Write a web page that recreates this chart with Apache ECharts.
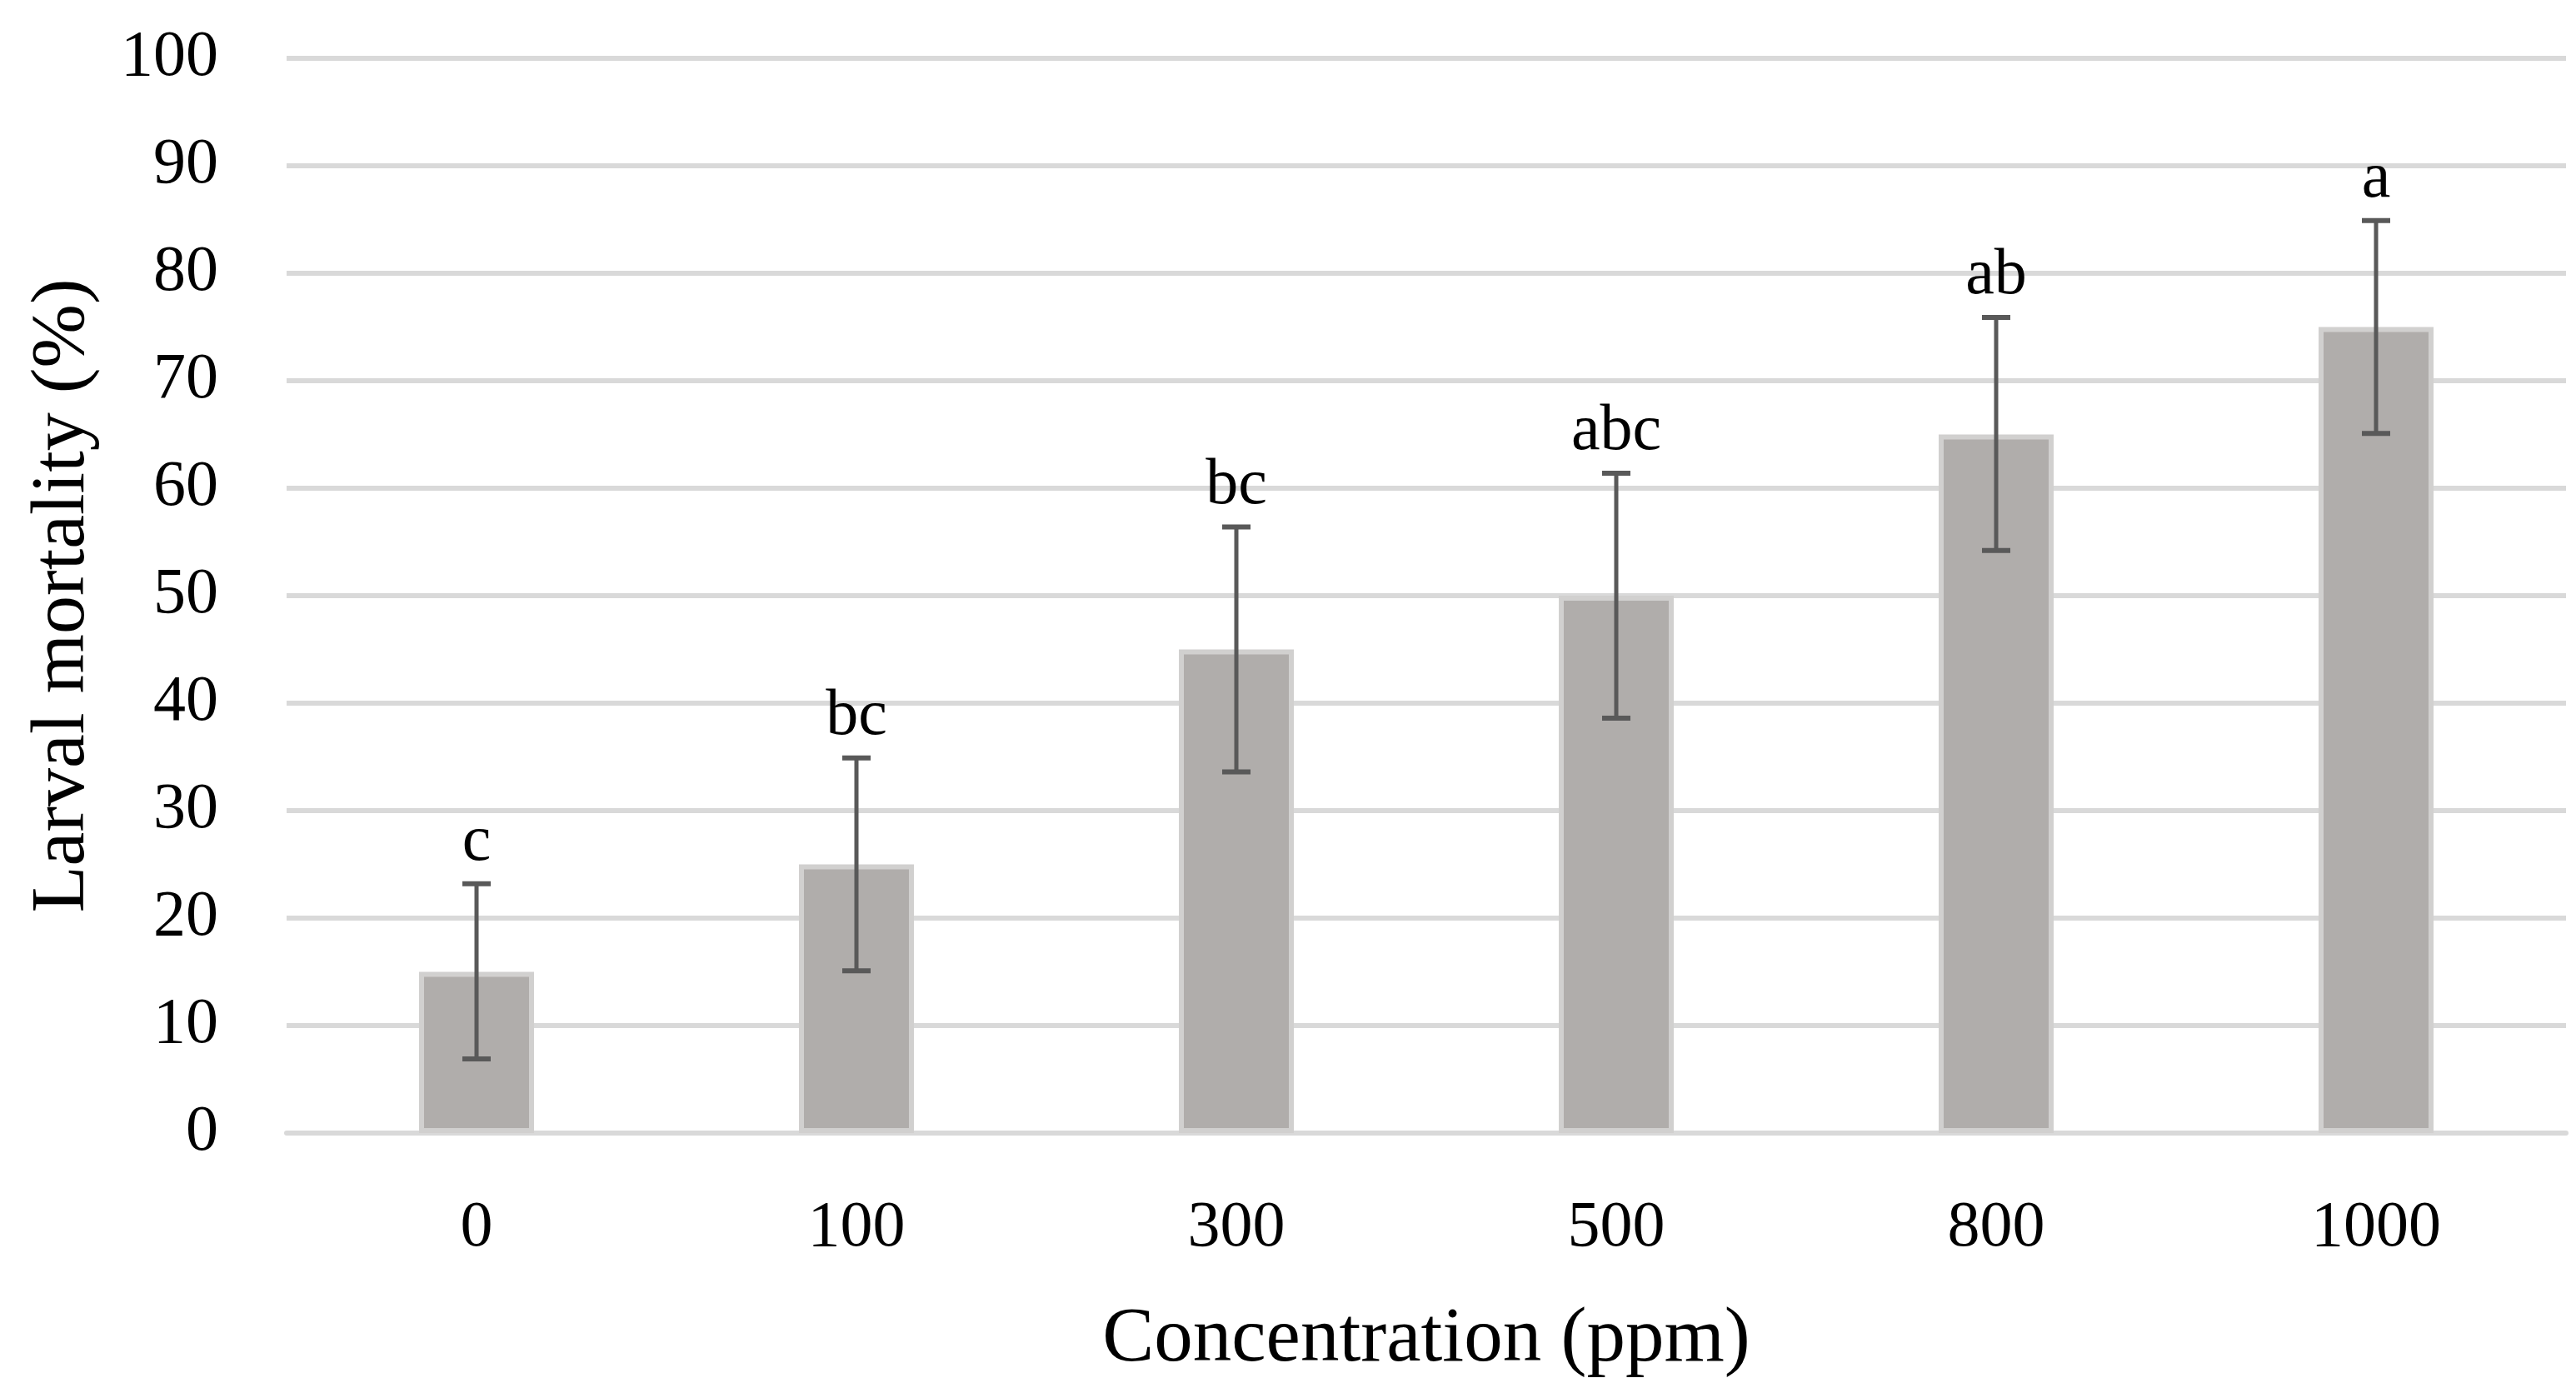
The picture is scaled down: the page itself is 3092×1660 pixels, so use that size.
<!DOCTYPE html>
<html>
<head>
<meta charset="utf-8">
<script src="https://cdn.jsdelivr.net/npm/echarts@6/dist/echarts.min.js"></script>
<style>html,body{margin:0;padding:0;background:#fff;}#c{width:3092px;height:1660px;}</style>
</head>
<body>
<div id="c"></div>
<script>
const categories = ['0', '100', '300', '500', '800', '1000'];
const mortality = [15, 25, 45, 50, 65, 75];
const errLow = [6.9, 15.1, 33.6, 38.6, 54.2, 65.1];
const errHigh = [23.2, 34.9, 56.4, 61.4, 75.9, 84.9];
const letters = ['c', 'bc', 'bc', 'abc', 'ab', 'a'];
const yTicks = [0, 10, 20, 30, 40, 50, 60, 70, 80, 90, 100];

const FONT = '"Liberation Serif", "DejaVu Serif", serif';
const chart = echarts.init(document.getElementById('c'), null, {renderer: 'canvas'});

const errData = categories.map((c, i) => [i, errLow[i], errHigh[i], letters[i]]);

chart.setOption({
  backgroundColor: '#ffffff',
  animation: false,
  grid: {left: 344, right: 12, top: 70, bottom: 294, containLabel: false},
  xAxis: {
    type: 'category',
    data: categories,
    name: 'Concentration (ppm)',
    nameLocation: 'middle',
    nameGap: 202,
    nameTextStyle: {fontFamily: FONT, fontSize: 93, color: '#000'},
    axisLine: {show: true, lineStyle: {color: '#d9d9d9', width: 6}},
    axisTick: {show: false},
    axisLabel: {fontFamily: FONT, fontSize: 78, color: '#000', margin: 76}
  },
  yAxis: {
    type: 'value',
    min: yTicks[0],
    max: yTicks[yTicks.length - 1],
    interval: 10,
    name: 'Larval mortality (%)',
    nameLocation: 'middle',
    nameGap: 222,
    nameTextStyle: {fontFamily: FONT, fontSize: 92, color: '#000'},
    axisLine: {show: false},
    axisTick: {show: false},
    splitLine: {show: true, lineStyle: {color: '#d9d9d9', width: 6}},
    axisLabel: {fontFamily: FONT, fontSize: 78, color: '#000', margin: 82}
  },
  series: [
    {
      type: 'bar',
      data: mortality,
      barWidth: 138,
      itemStyle: {color: '#b0adab', borderColor: '#d1d0cf', borderWidth: 6},
      z: 2
    },
    {
      type: 'custom',
      data: errData,
      z: 5,
      renderItem: function (params, api) {
        const x = api.value(0);
        const lo = api.coord([x, api.value(1)]);
        const hi = api.coord([x, api.value(2)]);
        const capHalf = 17;
        const style = {stroke: '#595959', lineWidth: 5};
        return {
          type: 'group',
          children: [
            {type: 'line', shape: {x1: lo[0], y1: lo[1], x2: hi[0], y2: hi[1]}, style: style},
            {type: 'line', shape: {x1: hi[0] - capHalf, y1: hi[1], x2: hi[0] + capHalf, y2: hi[1]}, style: {stroke: '#595959', lineWidth: 6}},
            {type: 'line', shape: {x1: lo[0] - capHalf, y1: lo[1], x2: lo[0] + capHalf, y2: lo[1]}, style: {stroke: '#595959', lineWidth: 6}},
            {type: 'text', x: hi[0], y: hi[1] - 10, style: {text: api.value(3), fontFamily: FONT, fontSize: 78, fill: '#000', align: 'center', verticalAlign: 'bottom'}}
          ]
        };
      }
    }
  ]
});
</script>
</body>
</html>
